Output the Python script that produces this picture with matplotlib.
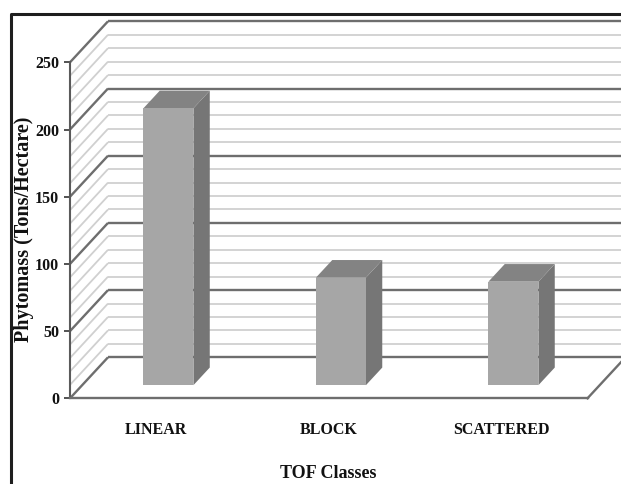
import matplotlib
matplotlib.use("Agg")
import matplotlib.pyplot as plt
from matplotlib.patches import Polygon
from matplotlib.lines import Line2D
import numpy as np

# ---- data -------------------------------------------------------------
categories = ["LINEAR", "BLOCK", "SCATTERED"]
phytomass = [206, 80, 77]
y_ticks = [0, 50, 100, 150, 200, 250]
y_label = "Phytomass (Tons/Hectare)"
x_label = "TOF Classes"

# ---- figure / axes ----------------------------------------------------
W, H, DPI = 621, 484, 100
plt.rcParams['font.family'] = ['Liberation Serif', 'DejaVu Serif']
plt.rcParams['font.weight'] = 'bold'
plt.rcParams['axes.labelweight'] = 'bold'

fig = plt.figure(figsize=(W / DPI, H / DPI), dpi=DPI)
fig.patch.set_facecolor('white')

ax_left, ax_bottom, ax_w, ax_h = 70, H - 398.3, 517.5, 336.0
ax = fig.add_axes([ax_left / W, ax_bottom / H, ax_w / W, ax_h / H])
ax.set_xlim(-0.5, 2.5)
ax.set_ylim(0, 250)
ax.patch.set_visible(False)

x0, x1 = ax.get_xlim()
y0, y1 = ax.get_ylim()

# oblique depth: full wall depth recedes 38 px right and 41 px up
DX = 38 / (ax_w / (x1 - x0))
DY = 41 / (ax_h / (y1 - y0))


def proj(x, v, d):
    """Project a point (category x, value v, depth d in 0..1) to data coords."""
    return x + d * DX, v + d * DY


MAJOR = '#6e6e6e'
MINOR = '#d0d0d0'

# ---- walls: back wall and left side wall gridlines ---------------------
for v in range(0, 251, 10):
    major = v % 50 == 0
    color = MAJOR if major else MINOR
    lw = 1.7 if major else 1.3
    z = 1.5 if major else 1.0
    bx0, by = proj(x0, v, 1)
    bx1, _ = proj(x1, v, 1)
    ax.plot([bx0, bx1], [by, by], color=color, lw=lw, zorder=z,
            clip_on=False, solid_capstyle='butt')
    fx, fy = proj(x0, v, 0)
    ax.plot([fx, bx0], [fy, by], color=color, lw=lw, zorder=z,
            clip_on=False, solid_capstyle='butt')

# floor right edge
fx, fy = proj(x1, 0, 0)
bx, by = proj(x1, 0, 1)
ax.plot([fx, bx], [fy, by], color=MAJOR, lw=1.7, zorder=1.5, clip_on=False)

# ---- 3-D bars ----------------------------------------------------------
bar_w = 0.29          # front face width (category units)
d_front, d_back = 0.32, 0.75
FRONT, TOP, SIDE = '#a6a6a6', '#838383', '#767676'

xs = np.arange(len(categories))
fxs = xs + d_front * DX
ax.bar(fxs, phytomass, width=bar_w, bottom=d_front * DY, color=FRONT,
       edgecolor='none', zorder=5, clip_on=False)

for x, v in zip(xs, phytomass):
    l, r = x - bar_w / 2, x + bar_w / 2
    top = [proj(l, v, d_front), proj(r, v, d_front),
           proj(r, v, d_back), proj(l, v, d_back)]
    side = [proj(r, 0, d_front), proj(r, v, d_front),
            proj(r, v, d_back), proj(r, 0, d_back)]
    ax.add_patch(Polygon(side, closed=True, facecolor=SIDE,
                         edgecolor='none', zorder=4, clip_on=False))
    ax.add_patch(Polygon(top, closed=True, facecolor=TOP,
                         edgecolor='none', zorder=4, clip_on=False))

# ---- axes styling ------------------------------------------------------
for s in ('top', 'right'):
    ax.spines[s].set_visible(False)
ax.spines['left'].set_color('#5a5a5a')
ax.spines['left'].set_linewidth(1.5)
ax.spines['bottom'].set_color(MAJOR)
ax.spines['bottom'].set_linewidth(1.7)

ax.set_yticks(y_ticks)
ax.tick_params(axis='y', direction='out', length=4, width=1.3,
               color='#444444', pad=4, labelsize=11.5, labelcolor='#111111')
ax.set_xticks(xs, categories)
ax.tick_params(axis='x', length=0, pad=17, labelsize=11.5,
               labelcolor='#111111')

ax.set_ylabel(y_label, fontsize=14.5, color='#111111', fontweight='bold')
ax.yaxis.set_label_coords((24 - ax_left) / ax_w, (398.3 - 229) / ax_h)
ax.yaxis.label.set_va('center')
ax.set_xlabel(x_label, fontsize=13, color='#111111', fontweight='bold')
ax.xaxis.set_label_coords(0.5, (398.3 - 473) / ax_h)
ax.xaxis.label.set_va('center')

# chart-area border
fig.add_artist(Line2D([11 / W, 11 / W, 1.02], [-0.02, 1 - 14 / H, 1 - 14 / H],
                      transform=fig.transFigure, color='#1e1e1e', lw=2.2))

fig.savefig('out.png', dpi=DPI)
